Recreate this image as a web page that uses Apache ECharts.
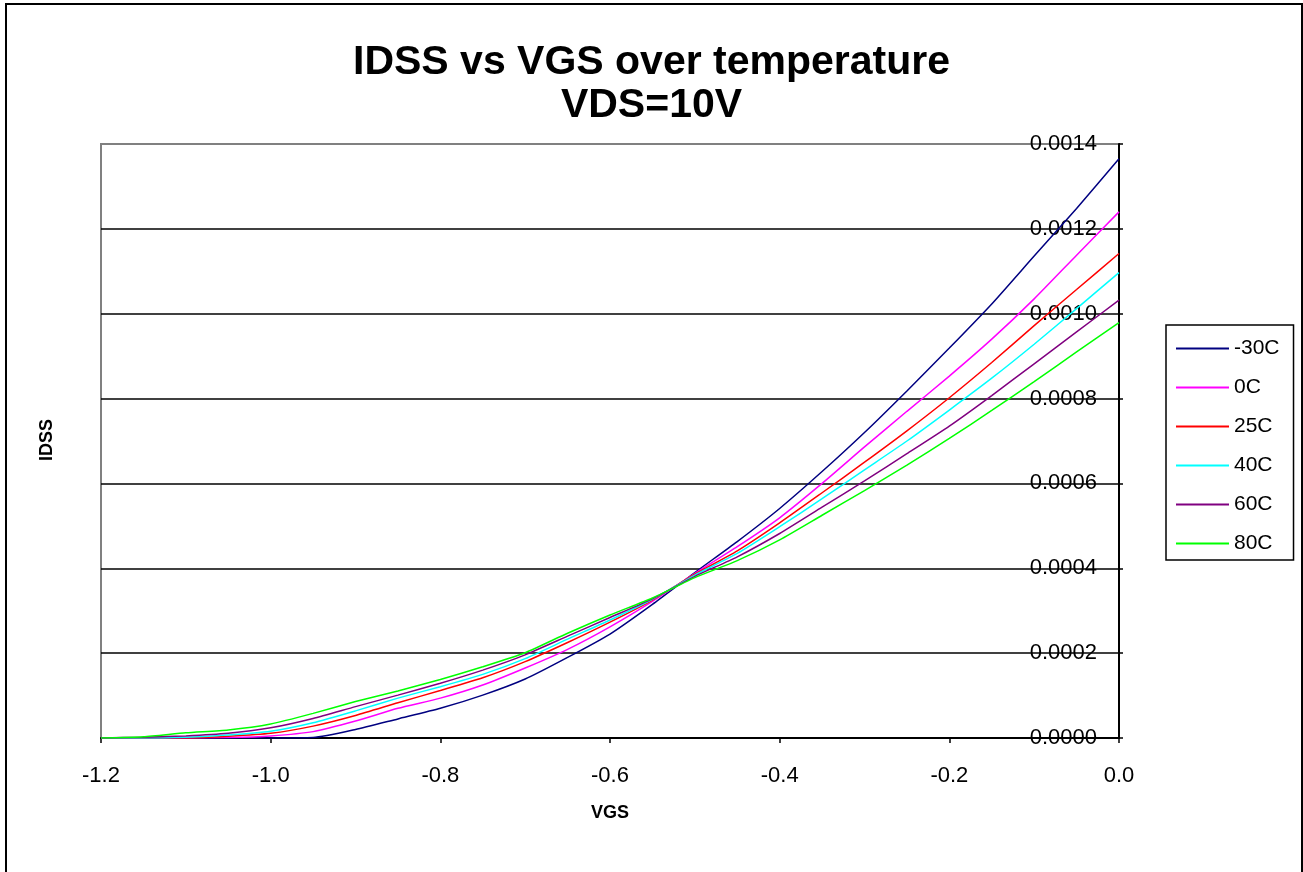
<!DOCTYPE html>
<html>
<head>
<meta charset="utf-8">
<script src="https://cdn.jsdelivr.net/npm/echarts@6/dist/echarts.min.js"></script>
<style>
  html, body { margin: 0; padding: 0; background: #fff; }
  #chart { width: 1303px; height: 872px; }
</style>
</head>
<body>
<div id="chart"></div>
<script>
// VGS sample points (V)
var vgs = [-1.2, -1.15, -1.1, -1.05, -1.0, -0.95, -0.9, -0.85, -0.8, -0.75, -0.7, -0.65,
           -0.6, -0.55, -0.5, -0.45, -0.4, -0.35, -0.3, -0.25, -0.2, -0.15, -0.1, -0.05, 0];

// IDSS (A), one array per temperature
var idssM30 = [0, 0, 0, 0, 0, 0.000001, 0.00002, 0.000045, 0.00007, 0.000101, 0.000139, 0.00019,
               0.000245, 0.000315, 0.00039, 0.000463, 0.000541, 0.000628, 0.00072, 0.000818, 0.000919,
               0.001023, 0.001136, 0.001248, 0.001365];
var idss0 = [0, 0, 0, 0.000001, 0.000005, 0.000015, 0.00004, 0.00007, 0.000094, 0.000125, 0.000165, 0.000209,
             0.000262, 0.000322, 0.000388, 0.000451, 0.000519, 0.0006, 0.000686, 0.00077, 0.000853,
             0.00094, 0.001035, 0.001138, 0.00124];
var idss25 = [0, 0, 0, 0.000004, 0.000011, 0.000028, 0.000053, 0.000083, 0.000112, 0.000142, 0.00018, 0.000225,
              0.000273, 0.000325, 0.000386, 0.000441, 0.000507, 0.000578, 0.00065, 0.000724, 0.000802,
              0.000885, 0.000972, 0.001057, 0.001142];
var idss40 = [0, 0, 0.000002, 0.000007, 0.000016, 0.000036, 0.000064, 0.000094, 0.000121, 0.00015, 0.000187, 0.000233,
              0.000278, 0.000327, 0.000384, 0.000435, 0.000498, 0.000564, 0.000632, 0.0007, 0.000773,
              0.000848, 0.000928, 0.001012, 0.001097];
var idss60 = [0, 0.000002, 0.000005, 0.000011, 0.000024, 0.000046, 0.000074, 0.000101, 0.000129, 0.00016, 0.000196, 0.00024,
              0.000284, 0.000328, 0.000381, 0.000427, 0.000482, 0.000544, 0.000606, 0.00067, 0.000735,
              0.000807, 0.000882, 0.000957, 0.001032];
var idss80 = [0, 0.000003, 0.0000125, 0.000019, 0.000033, 0.000058, 0.000086, 0.000111, 0.000138, 0.000168, 0.000201, 0.000247,
              0.00029, 0.00033, 0.000378, 0.000418, 0.000467, 0.000525, 0.000583, 0.000643, 0.000706,
              0.000772, 0.00084, 0.00091, 0.000979];

var seriesNames = ['-30C', '0C', '25C', '40C', '60C', '80C'];
var seriesData = [idssM30, idss0, idss25, idss40, idss60, idss80];
var colors = ['#000080', '#ff00ff', '#ff0000', '#00ffff', '#800080', '#00ff00'];

var chart = echarts.init(document.getElementById('chart'));
var font = 'Liberation Sans, Arial, sans-serif';

var series = [];
for (var i = 0; i < seriesNames.length; i++) {
    var pts = [];
    for (var j = 0; j < vgs.length; j++) {
        pts.push([vgs[j], seriesData[i][j]]);
    }
    series.push({
        name: seriesNames[i],
        type: 'line',
        data: pts,
        symbol: 'none',
        smooth: 0.2,
        lineStyle: { color: colors[i], width: 1.5 },
        itemStyle: { color: colors[i] },
        z: 3
    });
}

// top gridline sits on the plot-area border, which is grey
var splitColors = ['#000', '#000', '#000', '#000', '#000', '#000', '#000', '#808080'];

chart.setOption({
    backgroundColor: '#fff',
    animation: false,
    textStyle: { fontFamily: font },
    title: {
        text: 'IDSS vs VGS over temperature\nVDS=10V',
        left: 'center',
        top: 36,
        textStyle: { fontSize: 41, fontWeight: 'bold', color: '#000', lineHeight: 43, fontFamily: font }
    },
    legend: {
        orient: 'vertical',
        left: 1166,
        top: 325,
        padding: [13, 14, 6, 10],
        icon: 'rect',
        itemWidth: 53,
        itemHeight: 2,
        itemGap: 18,
        borderColor: '#000',
        borderWidth: 1.5,
        textStyle: { fontSize: 21, color: '#000', fontFamily: font, lineHeight: 20 },
        data: seriesNames
    },
    grid: {
        left: 101,
        top: 144,
        right: 184,
        bottom: 134,
        show: true,
        borderColor: '#808080',
        borderWidth: 2,
        backgroundColor: '#fff'
    },
    xAxis: {
        type: 'value',
        min: -1.2,
        max: 0,
        interval: 0.2,
        name: 'VGS',
        nameLocation: 'middle',
        nameGap: 66,
        nameTextStyle: { fontSize: 18, fontWeight: 'bold', color: '#000' },
        axisLine: { lineStyle: { color: '#000', width: 2 } },
        axisTick: { length: 5, lineStyle: { color: '#000', width: 1.5 } },
        axisLabel: {
            fontSize: 22,
            color: '#000',
            margin: 27,
            formatter: function (v) { return v.toFixed(1); }
        },
        splitLine: { show: false }
    },
    yAxis: {
        type: 'value',
        position: 'right',
        min: 0,
        max: 0.0014,
        interval: 0.0002,
        axisLine: { show: true, lineStyle: { color: '#000', width: 2 } },
        axisTick: { show: true, length: 4, lineStyle: { color: '#000', width: 1.5 } },
        axisLabel: {
            inside: true,
            margin: 22,
            fontSize: 22,
            color: '#000',
            formatter: function (v) { return v.toFixed(4); }
        },
        splitLine: { lineStyle: { color: splitColors, width: 1.5 } }
    },
    graphic: [
        {
            type: 'rect',
            shape: { x: 6, y: 4, width: 1296, height: 880 },
            style: { fill: 'none', stroke: '#000', lineWidth: 2 },
            silent: true
        },
        {
            type: 'text',
            x: 47,
            y: 440,
            rotation: Math.PI / 2,
            style: {
                text: 'IDSS',
                fontSize: 18,
                fontWeight: 'bold',
                fontFamily: font,
                fill: '#000',
                align: 'center',
                verticalAlign: 'middle'
            }
        }
    ],
    series: series
});
window.addEventListener('resize', function () { chart.resize(); });
</script>
</body>
</html>
